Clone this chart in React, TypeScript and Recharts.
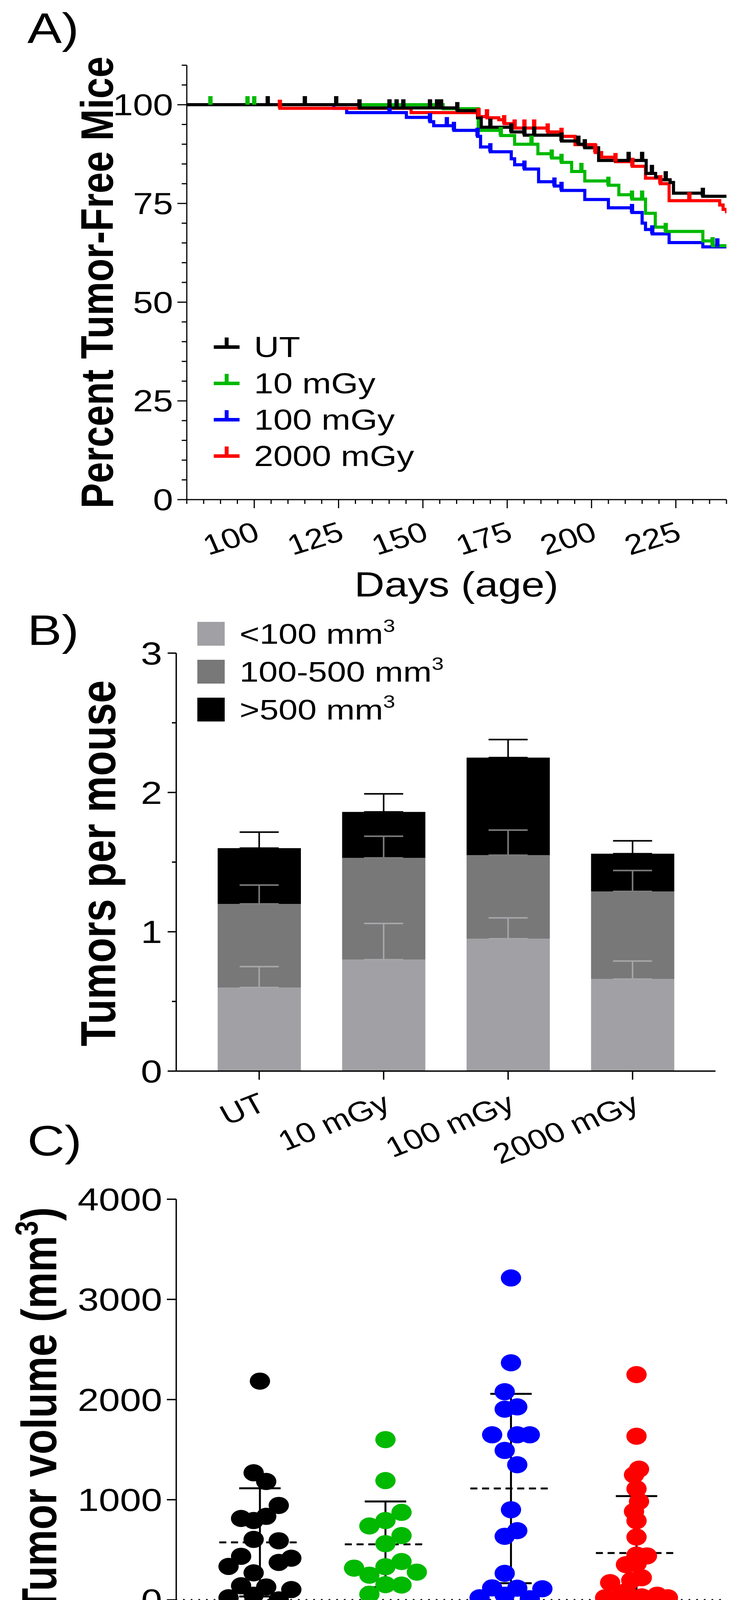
import React from 'react'
import {
  LineChart, Line, XAxis, YAxis, Legend, ComposedChart, Bar, Scatter, ErrorBar,
  ScatterChart, ReferenceLine,
} from 'recharts'

const FONT = '"Liberation Sans", Arial, Helvetica, sans-serif'
// the source figure is stretched horizontally, text follows it
const SX = 1.2

const GROUPS = ['UT', '10 mGy', '100 mGy', '2000 mGy']
const GROUP_COLORS = ['#000000', '#00b900', '#0000ff', '#ff0000']

// A) Kaplan-Meier steps: [day, percent, censored]
const KM_UT = [
  [80, 100, 0], [104, 100, 1], [115, 100, 1], [124.3, 100, 1], [131.2, 99.2, 1], [140.1, 99.2, 1],
  [142.2, 99.2, 1], [144.2, 99.2, 1], [152.1, 99.2, 1], [154.2, 99.2, 1], [155.4, 99.2, 1],
  [160.2, 98.5, 1], [166.2, 96.7, 0], [167.3, 94.3, 0], [170, 94.3, 1], [176.2, 93.1, 1],
  [180.1, 92.3, 1], [183, 92.3, 1], [191.1, 90.8, 1], [196.1, 90, 1], [198, 89.1, 1],
  [202.1, 85.9, 0], [211, 85.9, 1], [215, 85.9, 1], [216.2, 82.6, 0], [217.9, 82.6, 1],
  [219, 81.7, 0], [220.4, 81, 0], [222, 81, 1], [223.3, 80.3, 0], [224.3, 77.6, 0],
  [233, 76.8, 1], [240, 76.8, 0],
]
const KM_10 = [
  [80, 100, 0], [87, 100, 1], [98, 100, 1], [100, 100, 1], [156, 99, 0], [166.4, 93.5, 0],
  [173.1, 92.2, 1], [177.2, 90, 0], [182.2, 90, 1], [184.1, 87.6, 0], [188.2, 86.5, 1],
  [191.1, 85.4, 1], [194.1, 83.1, 0], [197, 83.1, 1], [198, 80.7, 0], [205, 79.6, 1],
  [208.1, 77.2, 0], [212, 76.1, 1], [215, 76.1, 1], [216, 72.5, 0], [218.9, 69, 0],
  [222, 67.9, 1], [233, 65.5, 0], [235.9, 64.3, 1], [240, 64.3, 0],
]
const KM_100 = [
  [80, 100, 0], [123.6, 99.1, 0], [127.4, 98, 0], [140.1, 98, 1], [145.1, 96.8, 0],
  [152.1, 95.7, 1], [153.2, 94.7, 0], [157.1, 94.7, 1], [159.2, 93.5, 1], [166.2, 92, 1],
  [167.1, 89.3, 0], [170, 88.1, 1], [176.2, 86.3, 0], [177.2, 84.8, 0], [180.1, 83.7, 1],
  [184.3, 80.5, 0], [189, 79.4, 1], [191.1, 78.3, 1], [198, 76, 0], [205, 73.9, 0],
  [212, 72.7, 1], [215, 70, 0], [216, 68.4, 0], [218, 67.3, 1], [223, 65.1, 0],
  [233, 64, 0], [237.3, 64, 1], [240, 64, 0],
]
const KM_2000 = [
  [80, 100, 0], [107.6, 99.1, 1], [146.5, 98, 0], [166.5, 97, 1], [169, 96.7, 1],
  [172.5, 96.2, 0], [174.1, 95.2, 1], [177.2, 94.1, 1], [180.1, 94.1, 1], [183, 94.1, 1],
  [187, 93.1, 1], [191.1, 92, 1], [195.1, 89.9, 0], [201.1, 87.9, 1], [203, 86.7, 0],
  [207.1, 85.6, 1], [212.1, 84.4, 1], [216, 81.4, 0], [220.4, 80, 1], [223, 75.7, 0],
  [229, 75.7, 1], [238, 74.6, 0], [239, 73.5, 0], [240, 72.5, 0],
]
const KM_SERIES = [KM_UT, KM_10, KM_100, KM_2000]
const DRAW_ORDER = [2, 3, 1, 0]

const DAY_TICKS = [80, 85, 90, 95, 100, 105, 110, 115, 120, 125, 130, 135, 140, 145, 150, 155, 160,
  165, 170, 175, 180, 185, 190, 195, 200, 205, 210, 215, 220, 225, 230, 235, 240]
const DAY_LABELS = [100, 125, 150, 175, 200, 225]
const PCT_TICKS = [0, 5, 10, 15, 20, 25, 30, 35, 40, 45, 50, 55, 60, 65, 70, 75, 80, 85, 90, 95, 100, 105, 110]
const PCT_LABELS = [0, 25, 50, 75, 100]

// B) tumors per mouse by size class (mean, SEM)
const SMALL = [0.6, 0.8, 0.95, 0.66]
const SMALL_SEM = [0.15, 0.26, 0.15, 0.13]
const MID = [0.6, 0.73, 0.6, 0.63]
const MID_SEM = [0.135, 0.156, 0.18, 0.15]
const LARGE = [0.4, 0.33, 0.7, 0.27]
const LARGE_SEM = [0.115, 0.13, 0.13, 0.093]
const SIZE_NAMES = ['<100 mm', '100-500 mm', '>500 mm']
const SIZE_COLORS = ['#a1a1a5', '#787878', '#000000']
const SIZE_ERR_COLORS = ['#a6a6aa', '#7c7c7c', '#000000']
const COUNT_TICKS = [0, 0.5, 1, 1.5, 2, 2.5, 3]
const COUNT_LABELS = [0, 1, 2, 3]

// C) tumor volumes; jitter is the horizontal spread within a group (category units)
const VOL_UT = [2184, 1269, 1182, 943, 813, 792, 834, 604, 590, 435, 334, 374, 416, 270, 141, 129, 103, 21, 47, 0]
const JIT_UT = [0, -0.05, 0.05, 0.15, -0.15, -0.05, 0.05, -0.05, 0.15, -0.15, -0.25, 0.15, 0.25, -0.05, -0.15, 0.05, 0.25, -0.25, -0.05, 0.15]
const VOL_10 = [1600, 1191, 874, 738, 792, 642, 561, 317, 247, 331, 383, 277, 152, 148, 56]
const JIT_10 = [0, 0, 0.128, -0.128, 0, 0.128, 0, -0.25, -0.128, 0, 0.128, 0.25, 0, 0.128, -0.128]
const VOL_100 = [3214, 2367, 2078, 1904, 1927, 1648, 1648, 1648, 1492, 1349, 900, 635, 691, 265, 120, 117, 111, 21, 47, 12]
const JIT_100 = [0, 0, -0.05, -0.05, 0.05, -0.15, 0.05, 0.15, -0.05, 0.05, 0, -0.05, 0.05, -0.05, -0.15, 0.05, 0.25, -0.25, -0.05, 0.15]
const VOL_2000 = [2249, 1634, 1305, 1248, 1109, 983, 883, 790, 627, 447, 439, 352, 360, 221, 195, 172, 21, 12, 4, 12, 47, 21, 12, 82, 30, 47]
const JIT_2000 = [0, 0, 0.02, -0.02, 0, 0.02, -0.02, 0, 0, 0, 0.083, -0.084, 0, 0.042, -0.042, -0.21, -0.25, -0.084, 0, 0.083, 0.165, 0.25, 0.21, -0.084, 0.042, -0.125]
const VOLUMES = [VOL_UT, VOL_10, VOL_100, VOL_2000]
const JITTER = [JIT_UT, JIT_10, JIT_100, JIT_2000]
const VOL_MEAN = [574, 555, 1112, 468]
const VOL_SD = [540, 428, 945, 568]
const VOL_TICKS = [0, 1000, 2000, 3000, 4000]

function SText({ x, y, angle = 0, anchor = 'middle', size, bold = false, fill = '#000', children }: any) {
  const rot = angle ? ` rotate(${angle})` : ''
  return (
    <text
      transform={`translate(${x} ${y}) scale(${SX} 1)${rot}`}
      textAnchor={anchor}
      fontSize={size}
      fontWeight={bold ? 700 : 400}
      fontFamily={FONT}
      fill={fill}
    >
      {children}
    </text>
  )
}

function DayTick({ x, y, payload }: any) {
  const major = DAY_LABELS.includes(payload.value)
  return (
    <g>
      <line x1={x} x2={x} y1={y} y2={y + (major ? 22 : 11)} stroke="#000" strokeWidth={3} />
      {major && <SText x={x + 18} y={y + 102} angle={-20} anchor="end" size={72}>{payload.value}</SText>}
    </g>
  )
}

function PctTick({ x, y, payload }: any) {
  const major = PCT_LABELS.includes(payload.value)
  return (
    <g>
      <line x1={x} x2={x - (major ? 24 : 13)} y1={y} y2={y} stroke="#000" strokeWidth={3} />
      {major && <SText x={x - 35} y={y + 27} anchor="end" size={77}>{payload.value}</SText>}
    </g>
  )
}

function CountTick({ x, y, payload }: any) {
  const major = COUNT_LABELS.includes(payload.value)
  return (
    <g>
      <line x1={x} x2={x - (major ? 22 : 11)} y1={y} y2={y} stroke="#000" strokeWidth={3.5} />
      {major && <SText x={x - 36} y={y + 29} anchor="end" size={82}>{payload.value}</SText>}
    </g>
  )
}

function VolTick({ x, y, payload }: any) {
  return (
    <g>
      <line x1={x} x2={x - 24} y1={y} y2={y} stroke="#000" strokeWidth={3.5} />
      <SText x={x - 36} y={y + 29} anchor="end" size={81}>{payload.value}</SText>
    </g>
  )
}

const groupTick = (dx: number, dy: number) => ({ x, y, payload }: any) => {
  const label = typeof payload.value === 'number' ? GROUPS[payload.value - 1] : payload.value
  return (
    <g>
      <line x1={x} x2={x} y1={y} y2={y + 22} stroke="#000" strokeWidth={3.5} />
      <SText x={x + dx} y={y + dy} angle={-25} anchor="end" size={72}>{label}</SText>
    </g>
  )
}

const censorDot = (color: string) => (p: any) => {
  if (!p.payload || !p.payload.c) return <g key={p.index} />
  return <rect key={p.index} x={p.cx - 5.5} y={p.cy - 22} width={11} height={22} fill={color} />
}

function LegendA() {
  return (
    <svg width={600} height={380}>
      {GROUPS.map((g, i) => (
        <g key={g} transform={`translate(0 ${i * 93})`}>
          <rect x={0} y={42} width={66} height={9} fill={GROUP_COLORS[i]} />
          <rect x={28} y={22} width={10} height={24} fill={GROUP_COLORS[i]} />
          <SText x={103} y={72} anchor="start" size={74}>{g}</SText>
        </g>
      ))}
    </svg>
  )
}

function LegendB() {
  return (
    <svg width={700} height={300}>
      {SIZE_NAMES.map((n, i) => (
        <g key={n} transform={`translate(0 ${20 + i * 97})`}>
          <rect x={0} y={0} width={70} height={61} fill={SIZE_COLORS[i]} />
          <SText x={108} y={56} anchor="start" size={73}>
            {n}<tspan dy={-30} fontSize={46}>3</tspan>
          </SText>
        </g>
      ))}
    </svg>
  )
}

function PanelA() {
  return (
    <LineChart width={1886} height={1550} margin={{ top: 167, right: 27, bottom: 121, left: 278 }}>
      <XAxis
        type="number" dataKey="day" domain={[80, 240]} ticks={DAY_TICKS} interval={0} allowDataOverflow
        height={150} axisLine={{ stroke: '#000', strokeWidth: 3 }} tickLine={false} tickSize={0} tickMargin={0}
        tick={<DayTick />}
        label={{ content: () => <SText x={1168} y={1527} size={89}>Days (age)</SText> }}
      />
      <YAxis
        type="number" domain={[0, 110]} ticks={PCT_TICKS} interval={0} width={200}
        axisLine={{ stroke: '#000', strokeWidth: 3 }} tickLine={false} tickSize={0} tickMargin={0}
        tick={<PctTick />}
        label={{
          content: () => (
            <g>
              <SText x={70} y={110} anchor="start" size={110}>A)</SText>
              <SText x={289} y={723} angle={-90} size={97} bold>Percent Tumor-Free Mice</SText>
            </g>
          ),
        }}
      />
      <Legend
        layout="vertical" align="center" verticalAlign="middle"
        content={() => <LegendA />}
        wrapperStyle={{ left: 547, top: 842, width: 600, height: 380 }}
      />
      {DRAW_ORDER.map(i => (
        <Line
          key={GROUPS[i]}
          name={GROUPS[i]}
          data={KM_SERIES[i].map(([day, pct, c]) => ({ day, pct, c: c === 1 }))}
          dataKey="pct"
          type="stepAfter"
          stroke={GROUP_COLORS[i]}
          strokeWidth={8}
          dot={censorDot(GROUP_COLORS[i])}
          activeDot={false}
          isAnimationActive={false}
        />
      ))}
    </LineChart>
  )
}

const BTick = groupTick(22, 99)
const CTick = groupTick(-5, 103)

function PanelB() {
  const rows = GROUPS.map((g, i) => ({
    group: g,
    small: SMALL[i],
    mid: MID[i],
    large: LARGE[i],
    smallTop: SMALL[i],
    midTop: SMALL[i] + MID[i],
    largeTop: SMALL[i] + MID[i] + LARGE[i],
    smallErr: [0, SMALL_SEM[i]],
    midErr: [0, MID_SEM[i]],
    largeErr: [0, LARGE_SEM[i]],
  }))
  const keys = ['small', 'mid', 'large']
  return (
    <ComposedChart width={1886} height={1450} data={rows} margin={{ top: 122, right: 55, bottom: 118, left: 251 }}>
      <XAxis
        dataKey="group" padding={{ left: 53, right: 53 }} interval={0} height={140}
        axisLine={{ stroke: '#000', strokeWidth: 3.5 }} tickLine={false} tickSize={0} tickMargin={0}
        tick={<BTick />}
      />
      <YAxis
        type="number" domain={[0, 3]} ticks={COUNT_TICKS} interval={0} width={200}
        axisLine={{ stroke: '#000', strokeWidth: 3.5 }} tickLine={false} tickSize={0} tickMargin={0}
        tick={<CountTick />}
        label={{
          content: () => (
            <g>
              <SText x={70} y={101} anchor="start" size={110}>B)</SText>
              <SText x={295} y={660} angle={-90} size={105} bold>Tumors per mouse</SText>
              <SText x={70} y={1408} anchor="start" size={110}>C)</SText>
            </g>
          ),
        }}
      />
      <Legend
        layout="vertical" align="center" verticalAlign="middle"
        content={() => <LegendB />}
        wrapperStyle={{ left: 505, top: 22, width: 700, height: 300 }}
      />
      {keys.map((k, i) => (
        <Bar key={k} dataKey={k} stackId="n" barSize={213} fill={SIZE_COLORS[i]} isAnimationActive={false} />
      ))}
      {keys.map((k, i) => (
        <Scatter key={k + 'e'} dataKey={k + 'Top'} shape={() => <g />} isAnimationActive={false}>
          <ErrorBar dataKey={k + 'Err'} direction="y" width={50} stroke={SIZE_ERR_COLORS[i]} strokeWidth={4} />
        </Scatter>
      ))}
    </ComposedChart>
  )
}

function PanelC() {
  const summary = GROUPS.map((g, i) => ({ x: i + 1, v: VOL_MEAN[i], sd: VOL_SD[i] }))
  return (
    <ScatterChart width={1886} height={1425} margin={{ top: 70, right: 43, bottom: 78, left: 251 }}>
      <XAxis
        type="number" dataKey="x" domain={[1 / 3, 14 / 3]} ticks={[1, 2, 3, 4]} interval={0} allowDataOverflow
        height={200} axisLine={{ stroke: '#000', strokeWidth: 3.5 }} tickLine={false} tickSize={0} tickMargin={0}
        tick={<CTick />}
      />
      <YAxis
        type="number" dataKey="v" domain={[-200, 4000]} ticks={VOL_TICKS} interval={0} width={200}
        axisLine={{ stroke: '#000', strokeWidth: 3.5 }} tickLine={false} tickSize={0} tickMargin={0}
        tick={<VolTick />}
        label={{
          content: () => (
            <SText x={144} y={610} angle={-90} size={105} bold>
              Tumor volume (mm<tspan dy={-40} fontSize={68}>3</tspan><tspan dy={40}>)</tspan>
            </SText>
          ),
        }}
      />
      <Scatter
        data={summary}
        isAnimationActive={false}
        shape={(p: any) => (
          <line x1={p.cx - 104} x2={p.cx + 104} y1={p.cy} y2={p.cy} stroke="#000" strokeWidth={5} strokeDasharray="18 12" />
        )}
      >
        <ErrorBar dataKey="sd" direction="y" width={53} stroke="#000" strokeWidth={5} />
      </Scatter>
      {VOLUMES.map((vals, i) => (
        <Scatter
          key={GROUPS[i]}
          data={vals.map((v, k) => ({ x: i + 1 + JITTER[i][k], v }))}
          isAnimationActive={false}
          shape={(p: any) => <ellipse cx={p.cx} cy={p.cy} rx={26} ry={22} fill={GROUP_COLORS[i]} />}
        />
      ))}
      <ReferenceLine y={0} stroke="#000" strokeWidth={5} strokeDasharray="0 19.6" strokeLinecap="round" />
    </ScatterChart>
  )
}

export default function App() {
  return (
    <div style={{ position: 'absolute', left: 0, top: 0, width: 1886, height: 4425, background: '#fff' }}>
      <div style={{ position: 'absolute', left: 0, top: 0 }}><PanelA /></div>
      <div style={{ position: 'absolute', left: 0, top: 1550 }}><PanelB /></div>
      <div style={{ position: 'absolute', left: 0, top: 3000 }}><PanelC /></div>
    </div>
  )
}
